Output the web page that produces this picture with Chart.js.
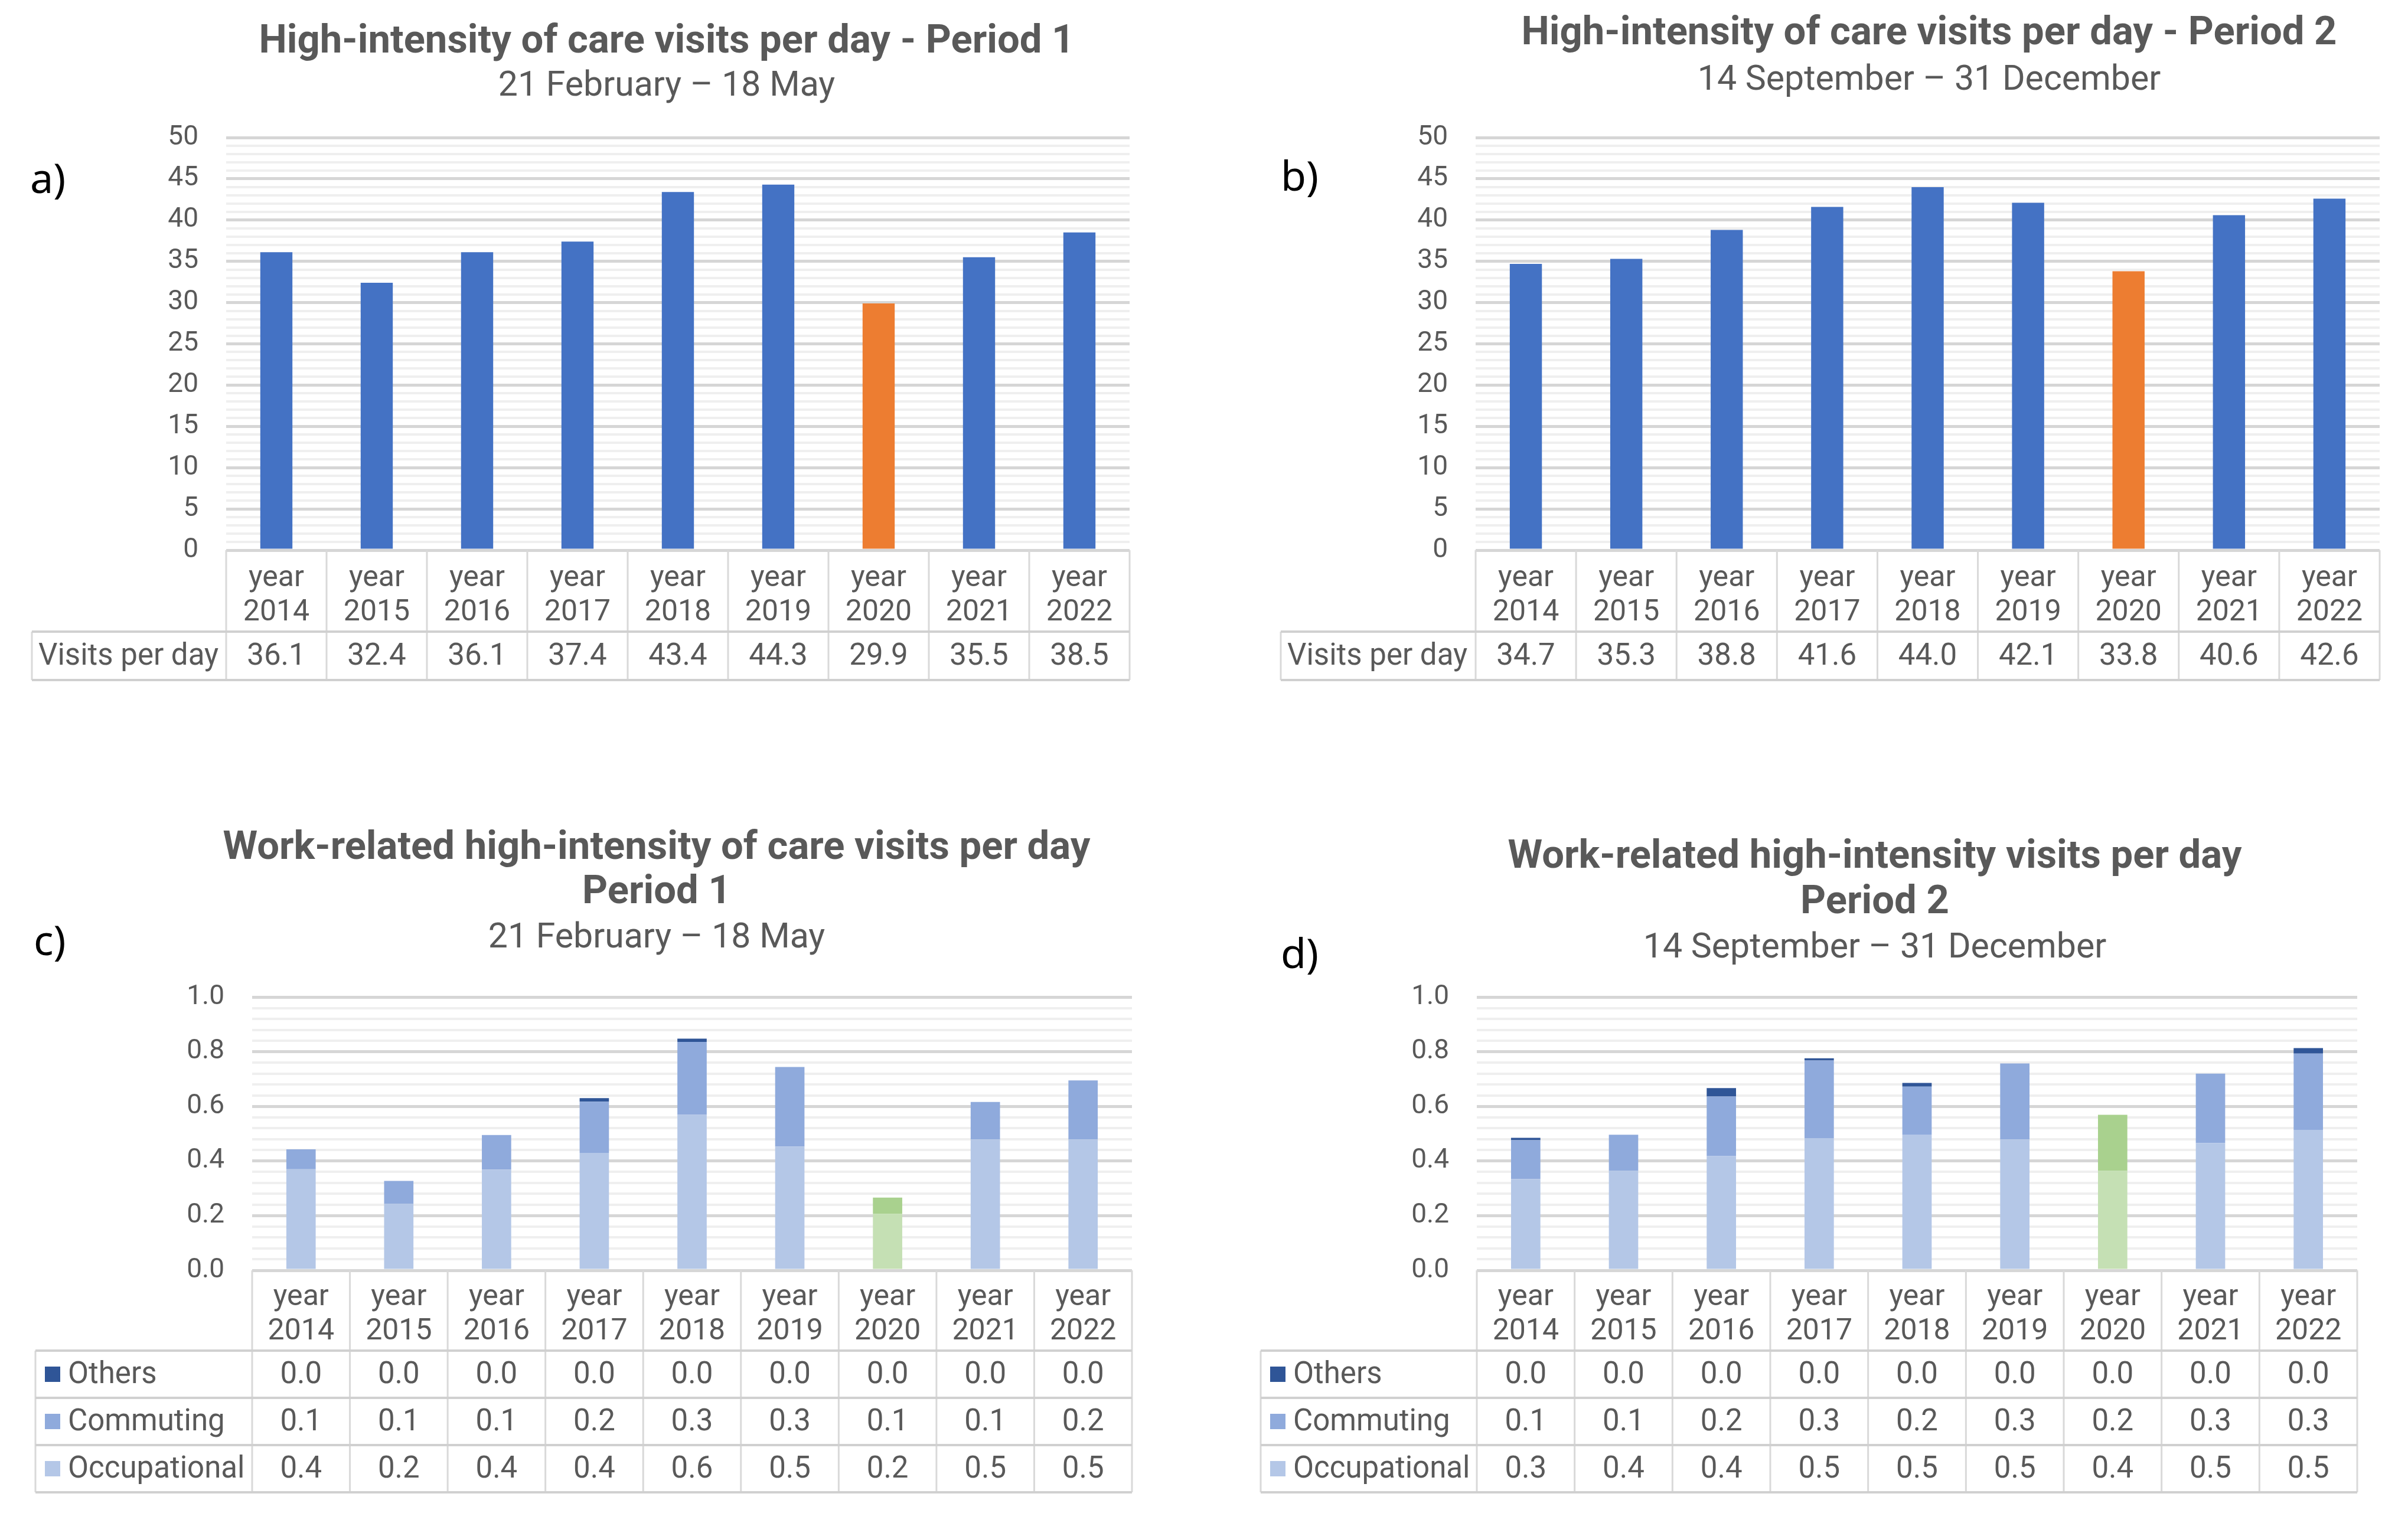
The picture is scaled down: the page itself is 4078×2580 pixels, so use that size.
<!DOCTYPE html>
<html>
<head>
<meta charset="utf-8">
<script src="https://cdn.jsdelivr.net/npm/chart.js@4.4.1/dist/chart.umd.min.js"></script>
<style>
  html, body { margin: 0; padding: 0; background: #fff; }
  body { width: 4078px; height: 2580px; position: relative; overflow: hidden; }
  canvas { position: absolute; }
</style>
</head>
<body>
<canvas id="chartA" width="2040" height="1290" style="left:0;top:0"></canvas>
<canvas id="chartB" width="2038" height="1290" style="left:2040px;top:0"></canvas>
<canvas id="chartC" width="2040" height="1290" style="left:0;top:1290px"></canvas>
<canvas id="chartD" width="2038" height="1290" style="left:2040px;top:1290px"></canvas>
<script>
// --- data ---
const years = ["2014", "2015", "2016", "2017", "2018", "2019", "2020", "2021", "2022"];
const covidYear = "2020";

const visitsP1 = [36.1, 32.4, 36.1, 37.4, 43.4, 44.3, 29.9, 35.5, 38.5];
const visitsP2 = [34.7, 35.3, 38.8, 41.6, 44.0, 42.1, 33.8, 40.6, 42.6];

const occupationalP1 = [0.370, 0.243, 0.369, 0.430, 0.569, 0.453, 0.206, 0.479, 0.479];
const commutingP1 = [0.073, 0.084, 0.126, 0.187, 0.267, 0.291, 0.060, 0.137, 0.216];
const othersP1 = [0, 0, 0, 0.013, 0.012, 0, 0, 0, 0];

const occupationalP2 = [0.334, 0.364, 0.418, 0.484, 0.497, 0.479, 0.364, 0.466, 0.514];
const commutingP2 = [0.142, 0.132, 0.218, 0.284, 0.175, 0.278, 0.205, 0.254, 0.279];
const othersP2 = [0.009, 0, 0.031, 0.008, 0.014, 0, 0, 0, 0.020];

// y axis: max, minor step, major step (labelled)
const visitsAxis = [50, 1, 5];
const workAxis = [1.0, 0.04, 0.2];

const FONT = "Roboto";
const TXT = "#595959";
const TITLE_SIZE = 67, SUB_SIZE = 59;

const blue = "#4472C4", orange = "#ED7D31";
const occBlue = "#B4C7E7", comBlue = "#8FAADC", othBlue = "#2F5597";
const occGreen = "#C5E0B4", comGreen = "#A9D18E", othGreen = "#548235";

const hi = years.indexOf(covidYear);
const colorsFor = (normal, special) => years.map((y, i) => (i === hi ? special : normal));

// headings + panel letter
const headings = {
  id: "headings",
  afterDraw(chart, args, o) {
    const ctx = chart.ctx;
    ctx.save();
    ctx.textAlign = "center";
    ctx.textBaseline = "middle";
    ctx.fillStyle = TXT;
    o.lines.forEach((l) => {
      ctx.font = (l.bold ? "bold " : "") + l.size + "px " + FONT;
      ctx.fillText(l.text, o.cx, l.y);
    });
    ctx.fillStyle = "#000";
    ctx.textAlign = "left";
    ctx.font = "70px 'Noto Sans'";
    ctx.fillText(o.letter, o.lx, o.ly);
    ctx.restore();
  },
};

// Excel-like data table under the x axis
const dataTable = {
  id: "dataTable",
  afterDraw(chart, args, o) {
    const ctx = chart.ctx;
    const x = chart.scales.x;
    const n = chart.data.labels.length;
    const colW = (x.right - x.left) / n;
    const top = chart.chartArea.bottom;
    const head = x.bottom;
    const rh = o.rowHeight;
    const bottom = head + o.rows.length * rh;
    ctx.save();
    ctx.strokeStyle = "#d9d9d9";
    ctx.lineWidth = 3;
    const line = (x1, y1, x2, y2) => { ctx.beginPath(); ctx.moveTo(x1, y1); ctx.lineTo(x2, y2); ctx.stroke(); };
    for (let i = 0; i <= n; i++) {
      const px = i < n ? x.getPixelForValue(i) - colW / 2 : x.getPixelForValue(n - 1) + colW / 2;
      line(px, top, px, bottom);
    }
    line(o.left, head, o.left, bottom);
    ctx.strokeStyle = "#d0d0d0";
    ctx.lineWidth = 4;
    for (let r = 0; r <= o.rows.length; r++) line(o.left, head + r * rh, x.right, head + r * rh);

    ctx.fillStyle = TXT;
    ctx.textBaseline = "middle";
    ctx.font = o.fontSize + "px " + FONT;
    o.rows.forEach((row, r) => {
      const cy = head + r * rh + rh / 2;
      let tx = o.left + 11;
      if (row.swatch) {
        ctx.fillStyle = row.swatch;
        ctx.fillRect(o.left + 16, cy - 13, 26, 26);
        tx = o.left + 55;
      }
      ctx.fillStyle = TXT;
      ctx.textAlign = "left";
      ctx.fillText(row.label, tx, cy + 2);
      ctx.textAlign = "center";
      row.values.forEach((v, i) => ctx.fillText(v.toFixed(1), x.getPixelForValue(i), cy + 2));
    });
    ctx.restore();
  },
};

function makePanel(id, p) {
  const [yMax, minor, major] = p.axis;
  const isMajor = (v) => Math.abs(v / major - Math.round(v / major)) < 1e-6;
  return new Chart(document.getElementById(id), {
    type: "bar",
    data: { labels: years.map((y) => ["year", y]), datasets: p.datasets },
    options: {
      responsive: false,
      animation: false,
      devicePixelRatio: 1,
      events: [],
      layout: { padding: { left: 0, top: p.top, right: p.right, bottom: p.bottom } },
      datasets: { bar: { categoryPercentage: 1, barPercentage: p.barPct } },
      scales: {
        x: {
          stacked: true,
          grid: { display: false },
          border: { display: false },
          ticks: {
            color: TXT, font: { family: FONT, size: 50, lineHeight: 1.16 },
            padding: p.xPad, maxRotation: 0, autoSkip: false,
          },
          afterFit: (s) => { s.height = p.headH; },
        },
        y: {
          stacked: true,
          min: 0, max: yMax,
          border: { display: false },
          grid: {
            drawTicks: false,
            color: (c) => (isMajor(c.tick.value) ? "#d6d6d6" : "#efefef"),
            lineWidth: (c) => (isMajor(c.tick.value) ? 5 : 4),
          },
          ticks: {
            stepSize: minor, autoSkip: false, padding: 47, color: TXT,
            font: { family: FONT, size: 46 },
            callback: (v) => (isMajor(v) ? (major < 1 ? v.toFixed(1) : String(v)) : ""),
          },
          afterFit: (s) => { s.width = p.left; },
        },
      },
      plugins: {
        legend: { display: false },
        tooltip: { enabled: false },
        headings: p.headings,
        dataTable: p.table,
      },
    },
    plugins: [headings, dataTable],
  });
}

// a) visits period 1
makePanel("chartA", {
  axis: visitsAxis, left: 383, right: 2040 - 1913, top: 233, bottom: 1290 - 932 - 138,
  headH: 138, xPad: 11, barPct: 0.32,
  datasets: [{ data: visitsP1, backgroundColor: colorsFor(blue, orange) }],
  headings: {
    cx: 1129, letter: "a)", lx: 51, ly: 307,
    lines: [
      { text: "High-intensity of care visits per day - Period 1", y: 72, size: TITLE_SIZE, bold: true },
      { text: "21 February \u2013 18 May", y: 147, size: SUB_SIZE },
    ],
  },
  table: { left: 54, rowHeight: 82, fontSize: 51, rows: [{ label: "Visits per day", values: visitsP1 }] },
});

// b) visits period 2
makePanel("chartB", {
  axis: visitsAxis, left: 459, right: 2038 - 1990, top: 233, bottom: 1290 - 932 - 138,
  headH: 138, xPad: 11, barPct: 0.32,
  datasets: [{ data: visitsP2, backgroundColor: colorsFor(blue, orange) }],
  headings: {
    cx: 1227, letter: "b)", lx: 129, ly: 303,
    lines: [
      { text: "High-intensity of care visits per day - Period 2", y: 58, size: TITLE_SIZE, bold: true },
      { text: "14 September \u2013 31 December", y: 137, size: SUB_SIZE },
    ],
  },
  table: { left: 129, rowHeight: 82, fontSize: 51, rows: [{ label: "Visits per day", values: visitsP2 }] },
});

// c) work-related period 1
makePanel("chartC", {
  axis: workAxis, left: 427, right: 2040 - 1917, top: 399, bottom: 1290 - 862 - 136,
  headH: 136, xPad: 9, barPct: 0.30,
  datasets: [
    { label: "Occupational", data: occupationalP1, backgroundColor: colorsFor(occBlue, occGreen) },
    { label: "Commuting", data: commutingP1, backgroundColor: colorsFor(comBlue, comGreen) },
    { label: "Others", data: othersP1, backgroundColor: colorsFor(othBlue, othGreen) },
  ],
  headings: {
    cx: 1112, letter: "c)", lx: 57, ly: 308,
    lines: [
      { text: "Work-related high-intensity of care visits per day", y: 148, size: TITLE_SIZE, bold: true },
      { text: "Period 1", y: 223, size: TITLE_SIZE, bold: true },
      { text: "21 February \u2013 18 May", y: 300, size: SUB_SIZE },
    ],
  },
  table: {
    left: 60, rowHeight: 80, fontSize: 51,
    rows: [
      { label: "Others", values: othersP1, swatch: othBlue },
      { label: "Commuting", values: commutingP1, swatch: comBlue },
      { label: "Occupational", values: occupationalP1, swatch: occBlue },
    ],
  },
});

// d) work-related period 2
makePanel("chartD", {
  axis: workAxis, left: 461, right: 2038 - 1952, top: 399, bottom: 1290 - 862 - 136,
  headH: 136, xPad: 9, barPct: 0.30,
  datasets: [
    { label: "Occupational", data: occupationalP2, backgroundColor: colorsFor(occBlue, occGreen) },
    { label: "Commuting", data: commutingP2, backgroundColor: colorsFor(comBlue, comGreen) },
    { label: "Others", data: othersP2, backgroundColor: colorsFor(othBlue, othGreen) },
  ],
  headings: {
    cx: 1135, letter: "d)", lx: 129, ly: 330,
    lines: [
      { text: "Work-related high-intensity visits per day", y: 163, size: TITLE_SIZE, bold: true },
      { text: "Period 2", y: 240, size: TITLE_SIZE, bold: true },
      { text: "14 September \u2013 31 December", y: 317, size: SUB_SIZE },
    ],
  },
  table: {
    left: 95, rowHeight: 80, fontSize: 51,
    rows: [
      { label: "Others", values: othersP2, swatch: othBlue },
      { label: "Commuting", values: commutingP2, swatch: comBlue },
      { label: "Occupational", values: occupationalP2, swatch: occBlue },
    ],
  },
});
</script>
</body>
</html>
